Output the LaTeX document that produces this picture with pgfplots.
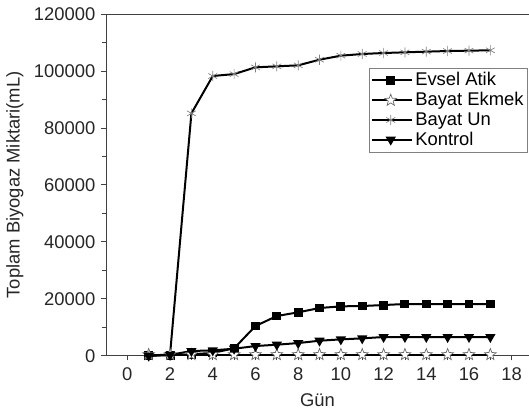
\documentclass[border=0pt]{standalone}
\usepackage{pgfplots}
\pgfplotsset{compat=1.18}
\usepackage{fontspec}
\setmainfont{Liberation Sans}
\pgfdeclareplotmark{ostar}{%
  \pgfpathmoveto{\pgfpointpolar{90}{\pgfplotmarksize}}%
  \pgfpathlineto{\pgfpointpolar{126}{0.42\pgfplotmarksize}}%
  \pgfpathlineto{\pgfpointpolar{162}{\pgfplotmarksize}}%
  \pgfpathlineto{\pgfpointpolar{198}{0.42\pgfplotmarksize}}%
  \pgfpathlineto{\pgfpointpolar{234}{\pgfplotmarksize}}%
  \pgfpathlineto{\pgfpointpolar{270}{0.42\pgfplotmarksize}}%
  \pgfpathlineto{\pgfpointpolar{306}{\pgfplotmarksize}}%
  \pgfpathlineto{\pgfpointpolar{342}{0.42\pgfplotmarksize}}%
  \pgfpathlineto{\pgfpointpolar{18}{\pgfplotmarksize}}%
  \pgfpathlineto{\pgfpointpolar{54}{0.42\pgfplotmarksize}}%
  \pgfpathclose
  \pgfusepathqfillstroke}
\begin{document}
\begin{tikzpicture}
\begin{axis}[
  scale only axis,
  width=317.25pt, height=256.3pt,
  xmin=-1, xmax=18.81, ymin=0, ymax=120000,
  axis x line=box, axis y line=left,
  x axis line style={-, color=black!75, line width=0.7pt},
  y axis line style={-, color=black!75, line width=0.7pt},
  xtick={0,2,...,18}, minor x tick num=1,
  ytick={0,20000,40000,60000,80000,100000,120000}, minor y tick num=1,
  xtick pos=bottom, ytick pos=left,
  tick align=outside,
  major tick length=3.5pt, minor tick length=3pt,
  every tick/.style={color=black!75, line width=0.6pt},
  scaled y ticks=false,
  /pgf/number format/fixed,
  /pgf/number format/precision=0,
  /pgf/number format/1000 sep={},
  /pgf/number format/assume math mode=true,
  tick label style={font=\fontsize{13.8pt}{16pt}\selectfont, color=black!85},
  xticklabel style={yshift=-2pt},
  yticklabel style={xshift=-1pt},
  xlabel={Gün}, ylabel={Toplam Biyogaz Miktari(mL)},
  label style={font=\fontsize{13.8pt}{16pt}\selectfont, color=black!85},
  xlabel style={yshift=-3pt},
  ylabel style={yshift=1pt},
  legend style={at={(rel axis cs:0.622,0.843)}, anchor=north west,
    draw=black!50, line width=0.5pt, inner xsep=1pt, inner ysep=1.5pt,
    font=\fontsize{13.8pt}{16pt}\selectfont, row sep=-0.5pt,
    /tikz/every even column/.append style={column sep=0pt}},
  legend cell align=left,
  legend image code/.code={
    \draw[#1, mark repeat=2, mark phase=2] plot coordinates {(0cm,0cm) (0.5cm,0cm) (1.05cm,0cm)};},
  clip=false,
]
\coordinate (sw) at (rel axis cs:0,0);
\coordinate (ne) at (rel axis cs:1,1);
\addplot[black, line width=1.5pt, mark=square*, mark size=2.6pt, mark options={solid, fill=black}]
coordinates {(1,0) (2,200) (3,500) (4,1000) (5,2600) (6,10430) (7,13940) (8,15240) (9,16750) (10,17340) (11,17450) (12,17800) (13,18160) (14,18160) (15,18160) (16,18160) (17,18160)};
\addlegendentry{Evsel Atik}
\addplot[black, line width=1.5pt, mark=ostar, mark size=4.6pt, mark options={draw=black!60, line width=0.5pt, fill=white}]
coordinates {(1,400) (2,400) (3,400) (4,400) (5,400) (6,400) (7,400) (8,400) (9,400) (10,400) (11,400) (12,400) (13,400) (14,400) (15,400) (16,400) (17,400)};
\addlegendentry{Bayat Ekmek}
\addplot[black, line width=1.5pt, mark=asterisk, mark size=3.8pt, mark options={black!50, line width=0.5pt}]
coordinates {(1,0) (2,500) (3,85100) (4,98220) (5,98900) (6,101270) (7,101620) (8,101970) (9,103950) (10,105360) (11,105950) (12,106300) (13,106540) (14,106770) (15,107000) (16,107120) (17,107250)};
\addlegendentry{Bayat Un}
\addplot[black, line width=1.5pt, mark=triangle*, mark size=3pt, mark options={rotate=180, fill=black}]
coordinates {(1,0) (2,300) (3,1650) (4,1890) (5,2460) (6,3400) (7,3870) (8,4450) (9,5270) (10,5740) (11,6100) (12,6570) (13,6570) (14,6570) (15,6570) (16,6570) (17,6570)};
\addlegendentry{Kontrol}
\end{axis}
\pgfresetboundingbox
\path[use as bounding box] ([shift={(-79.5pt,-45.2pt)}]sw) rectangle ([shift={(0pt,10.5pt)}]ne);
\end{tikzpicture}
\end{document}
